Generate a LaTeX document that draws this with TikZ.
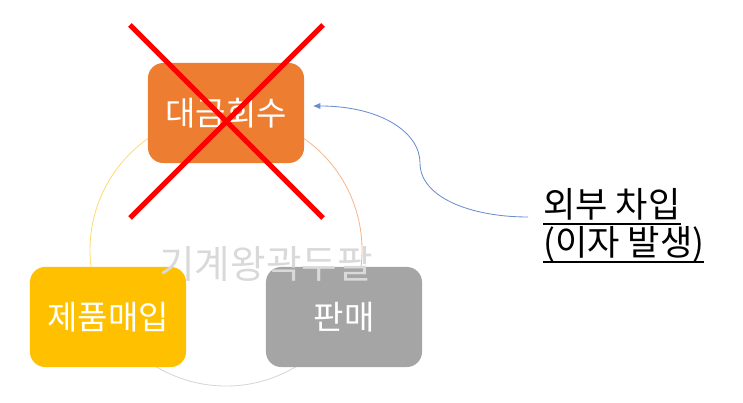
\documentclass[tikz,border=0pt]{standalone}
\usepackage{fontspec}
\setmainfont{Noto Sans CJK KR}
\usepackage{xcolor}
\usetikzlibrary{arrows.meta,calc}
\definecolor{collectorange}{HTML}{ED7D31}
\definecolor{buyyellow}{HTML}{FFC000}
\definecolor{sellgray}{HTML}{A5A5A5}
\definecolor{ghostgray}{HTML}{D9D9D9}
\definecolor{loanblue}{HTML}{4472C4}
\newcommand{\ulline}[1]{\setbox0\hbox{#1}\rlap{\rule[-0.22em]{\wd0}{1.4pt}}\box0}

\begin{document}
\begin{tikzpicture}[x=0.025cm, y=0.025cm,
    stagebox/.style={rounded corners=0.38cm, minimum width=3.9cm, minimum height=2.5cm,
      inner sep=0pt, text=white, font=\fontsize{23.5}{28}\selectfont},
    cyclearc/.style={line width=0.6pt}]
  \useasboundingbox (0,0) rectangle (743,402);

  % --- Cycle ring behind the boxes ---
  \coordinate (ring) at (226,152);
  \draw[cyclearc, buyyellow!55]     (ring) ++(90:136)  arc[start angle=90,  end angle=210, radius=136];
  \draw[cyclearc, collectorange!55] (ring) ++(-30:136) arc[start angle=-30, end angle=90,  radius=136];
  \draw[cyclearc, sellgray!45]      (ring) ++(210:136) arc[start angle=210, end angle=330, radius=136];

  % --- Stages ---
  \node[stagebox, fill=collectorange] (collect) at (226,289) {대금회수};
  \node[stagebox, fill=buyyellow]     (buy)     at (108,85)  {제품매입};
  \node[stagebox, fill=sellgray]      (sell)    at (344,85)  {판매};

  % --- Faint text over the ring ---
  \node[ghostgray, font=\fontsize{27.5}{32}\selectfont] (ghost) at (266,138) {기계왕곽두팔};

  % --- Red cross over the first stage ---
  \draw[red, line width=3.6pt] (130,377) -- (323,184);
  \draw[red, line width=3.6pt] (323,377) -- (130,184);

  % --- Outside loan note ---
  \node[anchor=north west, align=left, inner sep=0pt,
        font=\fontsize{25}{25.5}\selectfont] (loan) at (543,214)
        {\ulline{외부 차입}\\\ulline{(이자 발생)}};
  \coordinate (loanstart) at ($(loan.north west)+(-15,-29)$);
  \coordinate (loantip) at ($(collect.east)+(9,7)$);
  \draw[loanblue!80, line width=0.6pt, -{Triangle[length=5pt,width=4pt]}]
    (loanstart) .. controls (470,185) and (420,205) .. (420,239)
                .. controls (420,270) and (380,296) .. (loantip);
\end{tikzpicture}
\end{document}
